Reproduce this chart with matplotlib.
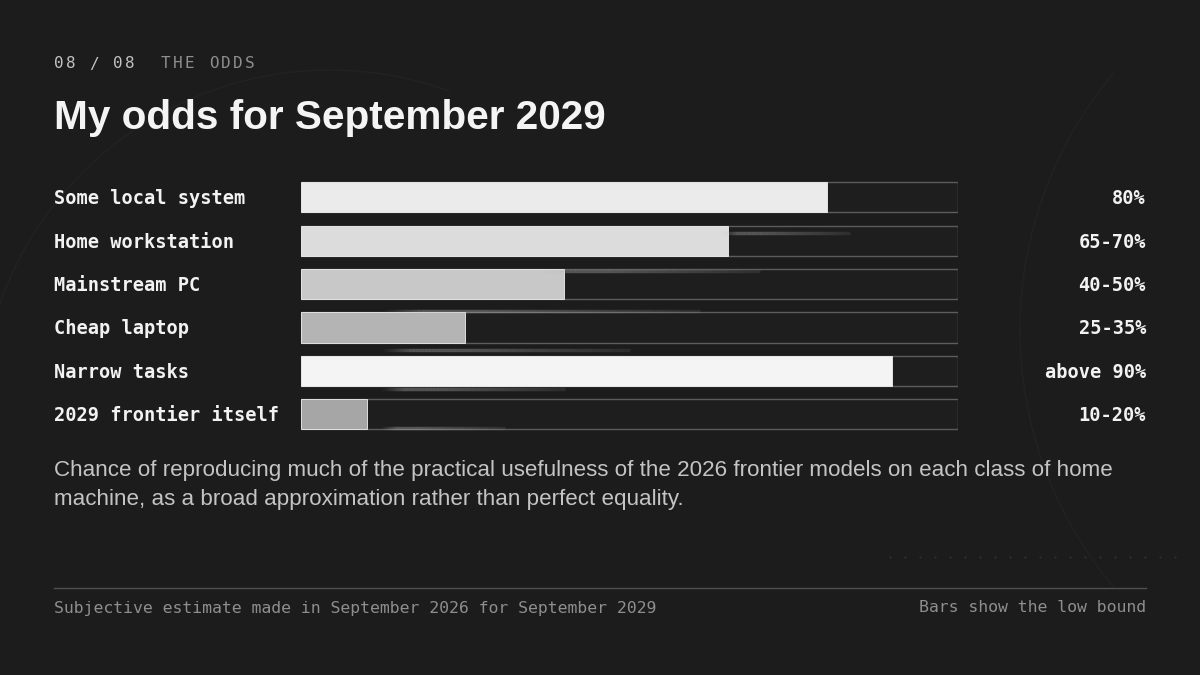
import numpy as np
import matplotlib
matplotlib.use("Agg")
import matplotlib.pyplot as plt
from matplotlib.patches import Arc
from matplotlib.collections import LineCollection

# data
categories = ["Some local system", "Home workstation", "Mainstream PC",
              "Cheap laptop", "Narrow tasks", "2029 frontier itself"]
low_bound = [80, 65, 40, 25, 90, 10]
odds_labels = ["80%", "65-70%", "40-50%", "25-35%", "above 90%", "10-20%"]
bar_colors = ["#ebebeb", "#dcdcdc", "#c8c8c8", "#b4b4b4", "#f4f4f4", "#a6a6a6"]

BG = "#1c1c1c"
W, H = 1200, 675
MONO = "DejaVu Sans Mono"
SANS = "Liberation Sans"

fig = plt.figure(figsize=(12, 6.75), dpi=100, facecolor=BG)

# background canvas in pixel coords
bg = fig.add_axes([0, 0, 1, 1])
bg.set_xlim(0, W)
bg.set_ylim(H, 0)
bg.axis("off")
bg.set_facecolor(BG)

# faint decoration
bg.add_patch(Arc((330, 420), 700, 700, theta1=180, theta2=290, color="#222222", lw=1))
bg.add_patch(Arc((1420, 330), 800, 800, theta1=140, theta2=220, color="#222222", lw=1))
for xx in np.arange(890, 1180, 15):
    bg.plot(xx, 557, marker=".", ms=1.2, color="#303030")

# kicker with letter spacing
kicker = "08 / 08  THE ODDS"
for i, ch in enumerate(kicker):
    col = "#c2c2c2" if i < 7 else "#8f8f8f"
    bg.text(54 + i * 11.9, 64, ch, family=MONO, fontsize=11.5, color=col,
            va="center", ha="left")

bg.text(54, 118, "My odds for September 2029", family=SANS, fontweight="bold",
        fontsize=29.2, color="#f4f4f4", va="center", ha="left")

bg.text(54, 485, "Chance of reproducing much of the practical usefulness of the 2026 frontier models on each class of home\n"
        "machine, as a broad approximation rather than perfect equality.",
        family=SANS, fontsize=16.1, color="#c4c4c4", va="center", ha="left",
        linespacing=1.45)

bg.plot([54, 1146], [588, 588], color="#505050", lw=1)
bg.text(54, 608, "Subjective estimate made in September 2026 for September 2029",
        family=MONO, fontsize=11.87, color="#8e8e8e", va="center", ha="left")
bg.text(1146, 608, "Bars show the low bound",
        family=MONO, fontsize=11.87, color="#8e8e8e", va="center", ha="right")

# bar axes
top_px, pitch = 175.6, 43.4
ax = fig.add_axes([301 / W, 1 - (top_px + 6 * pitch) / H, 657 / W, 6 * pitch / H])
ax.set_xlim(0, 100)
ax.set_ylim(5.5, -0.5)
ax.axis("off")

y = np.arange(len(categories))
ax.barh(y, [100] * len(y), height=0.7, color="#1e1e1e", edgecolor="#5c5c5c", lw=1)
ax.barh(y, low_bound, height=0.7, color=bar_colors, edgecolor="#f0f0f0", lw=0.6)

# overlay for glitch streaks, on top of the bars
ov = fig.add_axes([0, 0, 1, 1])
ov.set_xlim(0, W)
ov.set_ylim(H, 0)
ov.axis("off")
ov.patch.set_alpha(0)


def streak(x0, x1, yy, peak=0.35):
    xs = np.linspace(x0, x1, 80)
    segs = [[(xs[j], yy), (xs[j + 1], yy)] for j in range(len(xs) - 1)]
    t = np.linspace(0, 1, len(segs))
    alphas = peak * np.clip(1.3 - t, 0, 1) * np.clip(t * 8, 0, 1)
    cols = [(0.75, 0.75, 0.75, a) for a in alphas]
    ov.add_collection(LineCollection(segs, colors=cols, linewidths=2.5, capstyle="butt"))


streak(720, 850, 233)
streak(540, 760, 271)
streak(380, 700, 311)
streak(380, 630, 350)
streak(380, 565, 389)
streak(380, 505, 428)

for i, (cat, lab) in enumerate(zip(categories, odds_labels)):
    ypx = top_px + pitch * (i + 0.5) + 1.5
    bg.text(54, ypx, cat, family=MONO, fontweight="bold", fontsize=13.4,
            color="#f2f2f2", va="center", ha="left")
    bg.text(1146, ypx, lab, family=MONO, fontweight="bold", fontsize=13.4,
            color="#f2f2f2", va="center", ha="right")

fig.savefig("out.png", dpi=100, facecolor=BG)
